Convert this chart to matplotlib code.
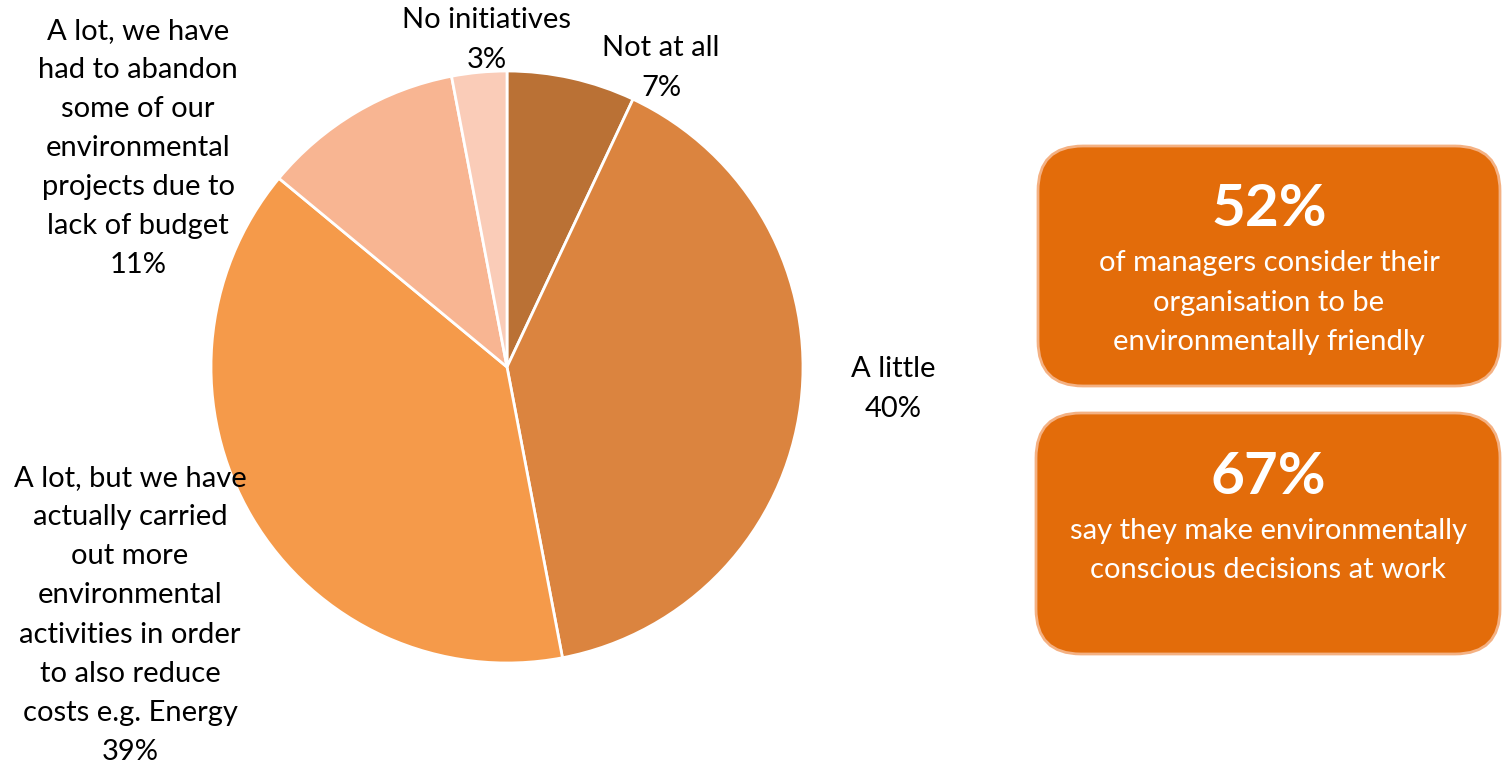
import matplotlib.pyplot as plt
from matplotlib.patches import FancyBboxPatch

plt.rcParams['font.family'] = ['Lato', 'DejaVu Sans']

labels = ["Not at all", "A little",
          "A lot, but we have\nactually carried\nout more\nenvironmental\nactivities in order\nto also reduce\ncosts e.g. Energy",
          "A lot, we have\nhad to abandon\nsome of our\nenvironmental\nprojects due to\nlack of budget",
          "No initiatives"]
shares = [7, 40, 39, 11, 3]
colors = ["#BA7135", "#DB843F", "#F59A4A", "#F8B592", "#FACCB8"]

# label centres in pixels (x, y from top)
label_pos = [(661, 68), (893, 389), (130, 615), (138, 148), (487, 40)]

stats = [("52%", "of managers consider their\norganisation to be\nenvironmentally friendly"),
         ("67%", "say they make environmentally\nconscious decisions at work")]

W, H = 1502, 764
fig = plt.figure(figsize=(W / 100, H / 100), dpi=100)

cx, cy, r = 507, 367, 296
ax = fig.add_axes([(cx - r) / W, (H - cy - r) / H, 2 * r / W, 2 * r / H])
ax.pie(shares, colors=colors, startangle=90, counterclock=False,
       wedgeprops=dict(edgecolor="white", linewidth=2))
ax.set_xlim(-1, 1)
ax.set_ylim(-1, 1)
ax.axis("off")

# overlay axes in pixel coords, drawn on top of the pie
ov = fig.add_axes([0, 0, 1, 1])
ov.set_xlim(0, W)
ov.set_ylim(H, 0)
ov.axis("off")
ov.set_zorder(2)

for lab, val, (x, y) in zip(labels, shares, label_pos):
    ov.text(x, y, f"{lab}\n{val}%", ha="center", va="center", fontsize=21,
            linespacing=1.62, color="black")

boxes = [(1038, 146, 462, 240), (1036, 413, 464, 241)]
for (bx, by, bw, bh), (big, small) in zip(boxes, stats):
    p = FancyBboxPatch((bx + 25, by + 25), bw - 50, bh - 50,
                       boxstyle="round,pad=25,rounding_size=45",
                       facecolor="#E36C0A", edgecolor="#F4B183", linewidth=2)
    ov.add_patch(p)
    mid = bx + bw / 2
    ov.text(mid, by + 64, big, ha="center", va="center", fontsize=42,
            fontweight="bold", color="white")
    nlines = small.count("\n") + 1
    ov.text(mid, by + 118 + (nlines - 1) * 19.25, small, ha="center", va="center",
            fontsize=21, linespacing=1.62, color="white")

fig.savefig("out.png", dpi=100, facecolor="white")
